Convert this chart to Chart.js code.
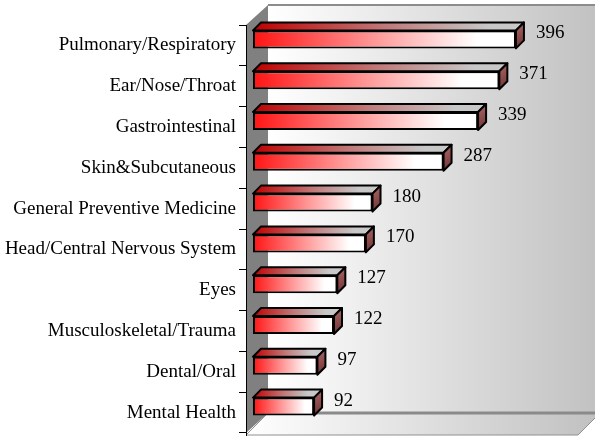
<!DOCTYPE html>
<html>
<head>
<meta charset="utf-8">
<script src="https://cdn.jsdelivr.net/npm/chart.js@4.4.1/dist/chart.umd.min.js"></script>
<style>
  html, body { margin: 0; padding: 0; background: #fff; }
</style>
</head>
<body>
<canvas id="graf" width="595" height="436"></canvas>
<script>
// ===================================================================
// DATA
// ===================================================================
const categories = [
    "Pulmonary/Respiratory",
    "Ear/Nose/Throat",
    "Gastrointestinal",
    "Skin&Subcutaneous",
    "General Preventive Medicine",
    "Head/Central Nervous System",
    "Eyes",
    "Musculoskeletal/Trauma",
    "Dental/Oral",
    "Mental Health"
];
const values = [396, 371, 339, 287, 180, 170, 127, 122, 97, 92];
const axisMin = 0;
const axisMax = 500;
// ===================================================================

const WALL = { dx: 22, dy: -20 };   // depth of the 3D box
const BAR = { dx: 8, dy: -8 };      // depth of each bar
const SHIFT = { dx: 7, dy: -6 };    // bars sit a bit behind the front plane
const FONT = { family: "'Liberation Serif', 'Times New Roman', serif", size: 19 };

// red -> white gradient along the bar length
const frontFill = (c) => {
    const xs = c.chart.scales.x;
    if (!xs || c.raw === undefined) return '#ff2020';
    const x0 = xs.getPixelForValue(axisMin);
    const x1 = xs.getPixelForValue(c.raw);
    if (!isFinite(x0) || !isFinite(x1) || x0 === x1) return '#ff2020';
    const g = c.chart.ctx.createLinearGradient(x0, 0, x1, 0);
    g.addColorStop(0, '#ff1414');
    g.addColorStop(0.45, '#ff9494');
    g.addColorStop(0.85, '#ffffff');
    g.addColorStop(1, '#ffffff');
    return g;
};

const poly = (ctx, pts) => {
    ctx.beginPath();
    ctx.moveTo(pts[0][0], pts[0][1]);
    for (let i = 1; i < pts.length; i++) ctx.lineTo(pts[i][0], pts[i][1]);
    ctx.closePath();
};

// back wall, side wall and floor
const box3d = {
    id: 'box3d',
    beforeDraw(chart) {
        const { ctx, chartArea: a } = chart;
        const L = a.left, R = a.right, T = a.top, B = a.bottom;
        const W = chart.width + 10;
        ctx.save();
        // back wall
        let g = ctx.createLinearGradient(L + WALL.dx, 0, W, 0);
        g.addColorStop(0, '#ffffff');
        g.addColorStop(1, '#c0c0c0');
        ctx.fillStyle = g;
        ctx.fillRect(L + WALL.dx, T + WALL.dy, W, B - T);
        ctx.strokeStyle = '#8c8c8c';
        ctx.lineWidth = 2;
        ctx.beginPath();
        ctx.moveTo(L + WALL.dx, T + WALL.dy);
        ctx.lineTo(W, T + WALL.dy);
        ctx.stroke();
        // side wall
        ctx.fillStyle = '#808080';
        poly(ctx, [[L, T], [L + WALL.dx, T + WALL.dy], [L + WALL.dx, B + WALL.dy], [L, B]]);
        ctx.fill();
        // floor
        g = ctx.createLinearGradient(L, 0, R + WALL.dx, 0);
        g.addColorStop(0, '#ffffff');
        g.addColorStop(1, '#c0c0c0');
        ctx.fillStyle = g;
        poly(ctx, [[L, B + 2], [R, B + 2], [R + WALL.dx, B + WALL.dy], [L + WALL.dx, B + WALL.dy]]);
        ctx.fill();
        ctx.strokeStyle = '#909090';
        ctx.lineWidth = 1;
        ctx.stroke();
        ctx.strokeStyle = '#8a8a8a';
        ctx.lineWidth = 3;
        ctx.beginPath();
        ctx.moveTo(L + WALL.dx, B + WALL.dy);
        ctx.lineTo(W, B + WALL.dy);
        ctx.stroke();
        // front edge of the side wall down to the floor
        ctx.strokeStyle = '#000';
        ctx.lineWidth = 1;
        ctx.beginPath();
        ctx.moveTo(L + 0.5, T);
        ctx.lineTo(L + 0.5, chart.height);
        ctx.stroke();
        ctx.restore();
    },
    beforeDatasetsDraw(chart) {
        const ctx = chart.ctx;
        ctx.save();
        ctx.translate(SHIFT.dx, SHIFT.dy);
        const meta = chart.getDatasetMeta(0);
        meta.data.forEach((el) => {
            const top = el.y - el.height / 2;
            const bot = el.y + el.height / 2;
            const x0 = el.base, x1 = el.x;
            if (!isFinite(x0) || !isFinite(x1) || !isFinite(top)) return;
            ctx.lineWidth = 2;
            ctx.lineJoin = 'round';
            ctx.strokeStyle = '#000';
            // top face
            const g = ctx.createLinearGradient(x0, 0, x1, 0);
            g.addColorStop(0, '#c00000');
            g.addColorStop(0.5, '#c07878');
            g.addColorStop(0.9, '#c8c8c8');
            g.addColorStop(1, '#c8c8c8');
            ctx.fillStyle = g;
            poly(ctx, [[x0, top], [x0 + BAR.dx, top + BAR.dy], [x1 + BAR.dx, top + BAR.dy], [x1, top]]);
            ctx.fill();
            ctx.stroke();
            // side face
            const s = ctx.createLinearGradient(x1, top, x1 + BAR.dx, bot);
            s.addColorStop(0, '#9a5a5a');
            s.addColorStop(1, '#703030');
            ctx.fillStyle = s;
            poly(ctx, [[x1, top], [x1 + BAR.dx, top + BAR.dy], [x1 + BAR.dx, bot + BAR.dy], [x1, bot]]);
            ctx.fill();
            ctx.stroke();
        });
    },
    afterDatasetsDraw(chart) {
        const ctx = chart.ctx;
        ctx.restore();
        ctx.save();
        ctx.fillStyle = '#000';
        ctx.font = FONT.size + 'px ' + FONT.family;
        ctx.textAlign = 'left';
        ctx.textBaseline = 'middle';
        const meta = chart.getDatasetMeta(0);
        meta.data.forEach((el, i) => {
            ctx.fillText(String(values[i]), el.x + SHIFT.dx + BAR.dx + 12, el.y + SHIFT.dy - 6);
        });
        ctx.restore();
    }
};

new Chart(document.getElementById('graf'), {
    type: 'bar',
    data: {
        labels: categories,
        datasets: [{
            data: values,
            backgroundColor: frontFill,
            borderColor: '#000',
            borderWidth: 2,
            borderSkipped: false,
            categoryPercentage: 1,
            barPercentage: 0.44
        }]
    },
    options: {
        indexAxis: 'y',
        responsive: false,
        animation: false,
        layout: { padding: { top: 25, right: 17, bottom: 3, left: 0 } },
        scales: {
            x: { display: false, min: axisMin, max: axisMax },
            y: {
                grid: { drawOnChartArea: false, tickLength: 7, color: '#000', offset: true },
                border: { display: true, color: '#000', width: 1 },
                ticks: { color: '#000', font: FONT, padding: 3, autoSkip: false },
                afterFit: (s) => {
                    s.width = 246;
                    s.paddingTop = 0;
                    s.paddingBottom = 0;
                }
            }
        },
        plugins: {
            legend: { display: false },
            tooltip: { enabled: false }
        }
    },
    plugins: [box3d]
});
</script>
</body>
</html>
